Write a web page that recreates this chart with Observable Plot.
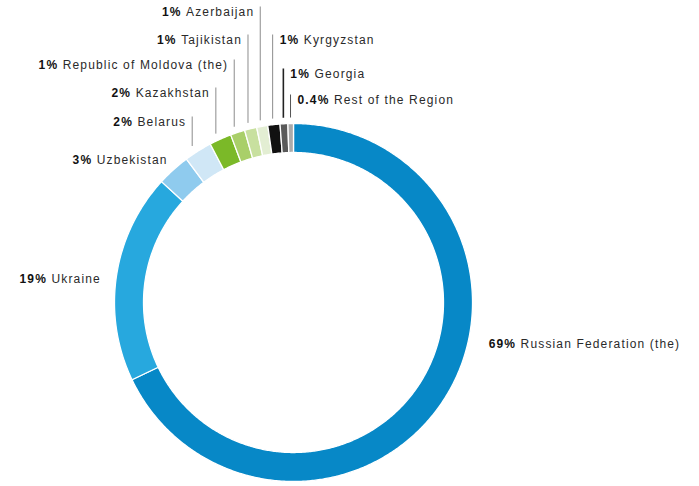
<!DOCTYPE html>
<html>
<head>
<meta charset="utf-8">
<script src="https://cdn.jsdelivr.net/npm/d3@7"></script>
<script src="https://cdn.jsdelivr.net/npm/@observablehq/plot@0.6"></script>
<style>
  html, body { margin: 0; padding: 0; background: #fff; }
  #chart svg { display: block; }
</style>
</head>
<body>
<div id="chart"></div>
<script>
// ---- data ----
const countries = [
  "Russian Federation (the)", "Ukraine", "Uzbekistan", "Belarus", "Kazakhstan",
  "Republic of Moldova (the)", "Tajikistan", "Azerbaijan", "Kyrgyzstan", "Georgia",
  "Rest of the Region"
];
const percentLabels = ["69%", "19%", "3%", "2%", "2%", "1%", "1%", "1%", "1%", "1%", "0.4%"];
// share of the ring each slice occupies in the drawing (percent)
const shares = [67.9, 18.9, 3.0, 2.5, 2.0, 1.3, 1.1, 1.0, 1.1, 0.7, 0.5];
const sliceColors = [
  "#0788c7", "#27a8de", "#8fcbee", "#d0e7f6", "#7bb928",
  "#a9cf69", "#c8e09f", "#e3eed3", "#111111", "#5a5a5a", "#aaaaaa"
];

// ---- layout ----
const W = 699, H = 486;
const cx = 293, cy = 302;          // ring centre in pixels
const R = 179, r = 150;            // outer / inner radius
const leaderR = 190, leaderEndR = 185;
// label placement: "leader" labels sit on a row (pixel y of text centre) above the ring,
// "polar" labels sit at an angle / radius from the centre
const labelPlacement = [
  {mode: "polar", angle: 102, radius: 199.5, anchor: "start"},
  {mode: "polar", angle: 276.8, radius: 194, anchor: "end"},
  {mode: "polar", angle: 318.5, radius: 190, anchor: "end"},
  {mode: "leader", rowY: 122, anchor: "end"},
  {mode: "leader", rowY: 93, anchor: "end"},
  {mode: "leader", rowY: 65, anchor: "end"},
  {mode: "leader", rowY: 40, anchor: "end"},
  {mode: "leader", rowY: 12, anchor: "end"},
  {mode: "leader", rowY: 40, anchor: "start"},
  {mode: "leader", rowY: 74, anchor: "start"},
  {mode: "leader", rowY: 100, anchor: "start"}
];
const leaderColors = ["#999", "#999", "#999", "#8c8c8c", "#8c8c8c", "#8c8c8c", "#8c8c8c", "#8c8c8c", "#8c8c8c", "#222", "#555"];

const rad = d => d * Math.PI / 180;
const px = (a, rr) => rr * Math.sin(rad(a));
const py = (a, rr) => -rr * Math.cos(rad(a));

// slices
const total = d3.sum(shares);
let acc = 0;
const slices = countries.map((name, i) => {
  const a0 = acc / total * 360;
  acc += shares[i];
  const a1 = acc / total * 360;
  return {name, i, a0, a1, mid: (a0 + a1) / 2};
});

function ringPoints(s) {
  const n = Math.max(4, Math.ceil((s.a1 - s.a0) / 0.5));
  const pts = [];
  for (let k = 0; k <= n; k++) {
    const a = s.a0 + (s.a1 - s.a0) * k / n;
    pts.push({x: px(a, R), y: py(a, R)});
  }
  for (let k = n; k >= 0; k--) {
    const a = s.a0 + (s.a1 - s.a0) * k / n;
    pts.push({x: px(a, r), y: py(a, r)});
  }
  return pts;
}

const leaders = [];
const labels = [];
slices.forEach(s => {
  const p = labelPlacement[s.i];
  const text = percentLabels[s.i] + " " + s.name;
  if (p.mode === "leader") {
    const lx = px(s.mid, leaderR);
    const yTop = p.rowY - cy - 6;
    const yBot = py(s.mid, leaderEndR);
    leaders.push({x: lx, y1: yTop, y2: yBot, color: leaderColors[s.i], w: s.name === "Georgia" ? 1.6 : 1});
    labels.push({x: p.anchor === "end" ? lx - 6 : lx + 7, y: p.rowY - cy, text, anchor: p.anchor});
  } else {
    labels.push({x: px(p.angle, p.radius), y: py(p.angle, p.radius), text, anchor: p.anchor});
  }
});

const font = "'Liberation Sans', Arial, Helvetica, sans-serif";

const marks = [
  ...slices.map(s => Plot.line(ringPoints(s), {
    x: "x", y: "y", curve: "linear-closed",
    fill: sliceColors[s.i], stroke: "#fff", strokeWidth: 1.3
  })),
  Plot.link(leaders, {x1: "x", x2: "x", y1: "y1", y2: "y2", stroke: d => d.color, strokeWidth: d => d.w}),
  ...["start", "end"].map(anchor => Plot.text(labels.filter(d => d.anchor === anchor), {
    x: "x", y: "y", text: "text", textAnchor: anchor,
    fontSize: 12, fill: "#1a1a1a", fontFamily: font
  }))
];

const chart = Plot.plot({
  width: W, height: H,
  marginTop: 0, marginRight: 0, marginBottom: 0, marginLeft: 0,
  x: {domain: [-cx, W - cx], range: [0, W], axis: null},
  y: {domain: [-cy, H - cy], range: [0, H], axis: null},
  style: {background: "#fff", fontFamily: font},
  marks
});

// bold percentage, regular name
d3.select(chart).selectAll("g[aria-label='text'] text").each(function() {
  const t = this.textContent;
  const i = t.indexOf(" ");
  const sel = d3.select(this).text("").attr("letter-spacing", "1.15");
  sel.append("tspan").attr("font-weight", "bold").attr("fill", "#111").text(t.slice(0, i + 1));
  sel.append("tspan").attr("fill", "#2a2a2a").text(t.slice(i + 1));
});

document.getElementById("chart").appendChild(chart);
</script>
</body>
</html>
